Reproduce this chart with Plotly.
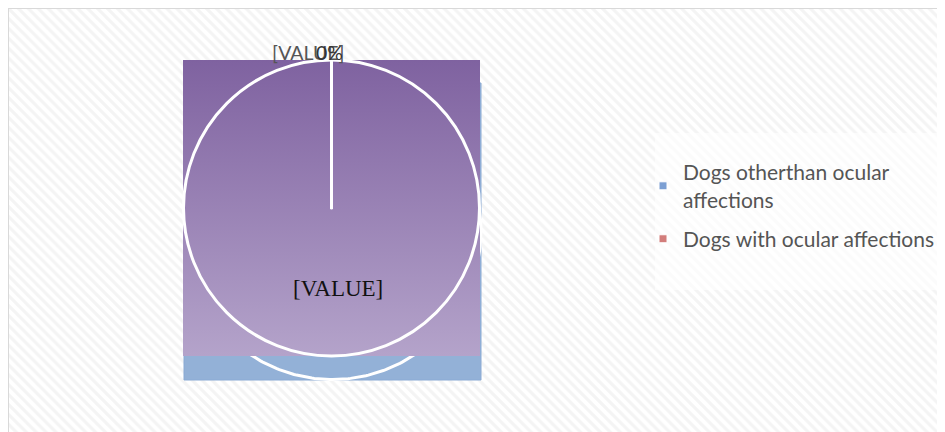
import numpy as np
import plotly.graph_objects as go

# ---- data ----
categories = ["Dogs otherthan ocular affections", "Dogs with ocular affections"]
values = [100, 0]
legend_names = ["Dogs otherthan ocular<br>affections", "Dogs with ocular affections"]
legend_colors = ["#7c9fd3", "#d27d7b"]
top_label = "[VALUE]"
top_pct = "0%"
inner_label = "[VALUE]"

# ---- layout constants (figure pixels; page adds an 8px body margin) ----
W, H = 945, 432
OFF = 8
def fx(v):
    return v - OFF
def fy(v):
    return v - OFF

PIE_X0, PIE_X1, PIE_Y0, PIE_Y1 = fx(183), fx(480), fy(60), fy(356)
SHIFT_X, SHIFT_Y = 1, 23
cx, cy = (PIE_X0 + PIE_X1) / 2, (PIE_Y0 + PIE_Y1) / 2
r = (PIE_X1 - PIE_X0) / 2

fig = go.Figure()

# hatched background
fig.add_trace(go.Bar(
    x=[W / 2], y=[H], base=[0], width=[W],
    marker=dict(color="#ffffff", line_width=0,
                pattern=dict(shape="\\", fgcolor="#e9e9e9", bgcolor="#ffffff",
                             size=7, solidity=0.45)),
    hoverinfo="skip", showlegend=False))

# legend panel
lx0, lx1, ly0, ly1 = fx(655), W, fy(133), fy(290)
fig.add_trace(go.Scatter(
    x=[lx0, lx1, lx1, lx0, lx0], y=[ly0, ly0, ly1, ly1, ly0], mode="lines",
    fill="toself", fillcolor="rgba(255,255,255,0.6)", line_width=0,
    hoverinfo="skip", showlegend=False))

# shifted blue square with circle outline
bx0, bx1 = PIE_X0 + SHIFT_X, PIE_X1 + SHIFT_X
by0, by1 = PIE_Y0 + SHIFT_Y, PIE_Y1 + SHIFT_Y + 1
fig.add_trace(go.Scatter(
    x=[bx0, bx1, bx1, bx0, bx0], y=[by0, by0, by1, by1, by0], mode="lines",
    fill="toself", fillcolor="#93b1d7", line=dict(color="#8aaad4", width=1),
    hoverinfo="skip", showlegend=False))
t = np.linspace(0, 2 * np.pi, 361)
fig.add_trace(go.Scatter(
    x=cx + SHIFT_X + r * np.cos(t), y=cy + SHIFT_Y + r * np.sin(t), mode="lines",
    line=dict(color="white", width=3), hoverinfo="skip", showlegend=False))

# purple gradient square
fig.add_trace(go.Scatter(
    x=[PIE_X0, PIE_X1, PIE_X1, PIE_X0, PIE_X0],
    y=[PIE_Y0, PIE_Y0, PIE_Y1, PIE_Y1, PIE_Y0], mode="lines",
    fill="toself", line_width=0,
    fillgradient=dict(type="vertical", start=PIE_Y0, stop=PIE_Y1,
                      colorscale=[[0, "#7f62a0"], [1, "#b4a3ca"]]),
    hoverinfo="skip", showlegend=False))

# legend entries
for i, (name, col) in enumerate(zip(legend_names, legend_colors)):
    fig.add_trace(go.Scatter(
        x=[None], y=[None], mode="markers", name=name, legendgroup=f"g{i}",
        marker=dict(symbol="square", size=8, color=col,
                    line=dict(color="white", width=1))))

# the pie itself
fig.add_trace(go.Pie(
    labels=categories, values=values, sort=False, direction="clockwise",
    marker=dict(colors=["rgba(0,0,0,0)", "rgba(0,0,0,0)"],
                line=dict(color="white", width=3)),
    textinfo="none", showlegend=False, hoverinfo="label+percent",
    domain=dict(x=[PIE_X0 / W, PIE_X1 / W], y=[1 - PIE_Y1 / H, 1 - PIE_Y0 / H])))

# radial separator of the 0% slice
fig.add_trace(go.Scatter(
    x=[cx, cx], y=[cy + 1, PIE_Y0], mode="lines",
    line=dict(color="white", width=3), hoverinfo="skip", showlegend=False))

annotations = [
    dict(x=fx(308.5), y=fy(52), text=top_label, showarrow=False,
         font=dict(family="Lato", size=19.5, color="#555555")),
    dict(x=fx(329), y=fy(52), text=top_pct, showarrow=False,
         font=dict(family="Lato", size=19.5, color="#333333")),
    dict(x=fx(338), y=fy(288), text=inner_label, showarrow=False,
         font=dict(family="Liberation Serif", size=23, color="#111111")),
]
for a in annotations:
    a.update(xref="x", yref="y")

fig.update_layout(
    width=W, height=H, margin=dict(l=0, r=0, t=0, b=0),
    paper_bgcolor="white", plot_bgcolor="white",
    xaxis=dict(range=[0, W], visible=False, fixedrange=True, domain=[0, 1]),
    yaxis=dict(range=[H, 0], visible=False, fixedrange=True, domain=[0, 1]),
    showlegend=True,
    legend=dict(x=fx(643) / W, y=1 - fy(152) / H, xanchor="left", yanchor="top",
                bgcolor="rgba(0,0,0,0)", font=dict(family="Lato", size=21, color="#555555"),
                tracegroupgap=9, itemwidth=30),
    annotations=annotations,
    shapes=[dict(type="rect", xref="x", yref="y", x0=0, y0=0, x1=W + 2, y1=H + 2,
                 line=dict(color="#d9d9d9", width=2), layer="above")],
    bargap=0,
)

fig.write_html("out.html")
